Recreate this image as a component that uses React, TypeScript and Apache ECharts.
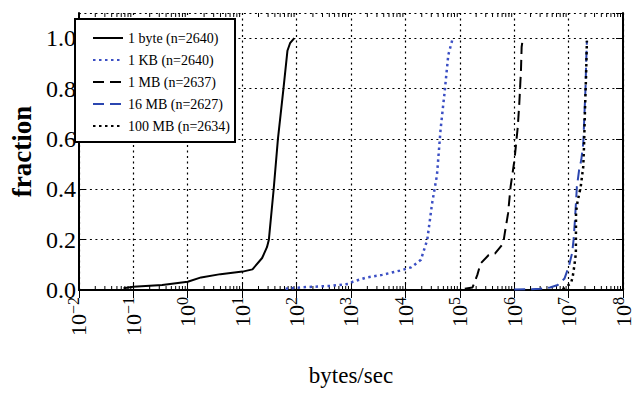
import React, { useEffect, useRef } from "react";
import * as echarts from "echarts";

const seriesNames = ["1 byte (n=2640)", "1 KB (n=2640)", "1 MB (n=2637)", "16 MB (n=2627)", "100 MB (n=2634)"];

const byteX = [0.066, 0.1, 0.34, 1.0, 1.76, 4.0, 10.2, 15.5, 23.3, 28.6, 31, 38, 45.5, 57.5, 68, 76, 91];
const byteY = [0.007, 0.013, 0.02, 0.033, 0.05, 0.063, 0.073, 0.082, 0.127, 0.17, 0.2, 0.4, 0.6, 0.8, 0.95, 0.98, 1.0];

const kbX = [63, 131, 414, 890, 1090, 1880, 3740, 7930, 12800, 19300, 25300, 31000, 38100, 44400, 52300, 61500, 73400];
const kbY = [0.005, 0.011, 0.016, 0.024, 0.033, 0.049, 0.06, 0.077, 0.09, 0.12, 0.2, 0.344, 0.456, 0.638, 0.78, 0.933, 0.996];

const mbX = [123600, 171500, 210400, 241000, 340000, 446000, 629000, 671000, 772000, 859000, 1.012e6, 1.086e6, 1.164e6, 1.242e6, 1.333e6, 1.371e6, 1.429e6];
const mbY = [0.005, 0.01, 0.06, 0.105, 0.139, 0.145, 0.185, 0.225, 0.304, 0.41, 0.516, 0.582, 0.648, 0.741, 0.873, 0.965, 0.992];

const mb16X = [1.0e6, 2.0e6, 3.03e6, 4.56e6, 6.33e6, 8.43e6, 1.007e7, 1.157e7, 1.236e7, 1.309e7, 1.42e7, 1.56e7, 1.71e7, 1.86e7, 1.97e7, 2.05e7, 2.1e7, 2.17e7];
const mb16Y = [0.002, 0.003, 0.005, 0.01, 0.02, 0.046, 0.093, 0.145, 0.2, 0.278, 0.41, 0.476, 0.516, 0.582, 0.714, 0.807, 0.9, 0.99];

const mb100X = [7.8e6, 1.11e7, 1.19e7, 1.27e7, 1.36e7, 1.37e7, 1.46e7, 1.67e7, 1.86e7, 1.92e7, 2.0e7, 2.05e7, 2.1e7, 2.17e7];
const mb100Y = [0.003, 0.027, 0.053, 0.093, 0.145, 0.31, 0.35, 0.41, 0.49, 0.569, 0.714, 0.787, 0.86, 0.99];

const decadeExponents = [-2, -1, 0, 1, 2, 3, 4, 5, 6, 7];
const minorMultipliers = [2, 3, 4, 5, 6, 7, 8, 9];

const FONT = "Liberation Serif";

const zip = (xs: number[], ys: number[]) => xs.map((x, i) => [x, ys[i]]);

export default function App() {
  const ref = useRef<HTMLDivElement>(null);
  useEffect(() => {
    if (!ref.current) return;
    const chart = echarts.init(ref.current, null, { renderer: "svg" });
    const minorVals: number[][] = [];
    decadeExponents.forEach((e) =>
      minorMultipliers.forEach((m) => minorVals.push([m * Math.pow(10, e), 0]))
    );
    const xAxisBase = {
      type: "log",
      logBase: 10,
      min: 0.01,
      max: 1e8,
      interval: 1,
      axisLine: { show: true, lineStyle: { color: "#000", width: 2 } },
      axisTick: { show: true, inside: true, length: 8, lineStyle: { color: "#000", width: 1 } },
      minorTick: { show: false },
    };
    const yAxisBase = {
      type: "value",
      min: 0,
      max: 1.1,
      interval: 0.2,
      axisLine: { show: true, lineStyle: { color: "#000", width: 2 } },
      axisTick: { show: true, inside: true, length: 7, lineStyle: { color: "#000", width: 1 } },
    };
    const lineSeries = (name: string, data: number[][], color: string, type: any, width = 2) => ({
      name,
      type: "line",
      data,
      showSymbol: false,
      symbol: "none",
      xAxisIndex: 0,
      yAxisIndex: 0,
      lineStyle: { color, width, type },
      itemStyle: { color },
    });
    chart.setOption({
      animation: false,
      backgroundColor: "#fff",
      grid: { left: 64, top: 13, right: 9, bottom: 104, containLabel: false },
      legend: {
        data: seriesNames,
        orient: "vertical",
        left: 75,
        top: 19,
        padding: [12, 5, 9, 17],
        itemWidth: 30,
        itemHeight: 14,
        itemGap: 8,
        backgroundColor: "#fff",
        borderColor: "#000",
        borderWidth: 2,
        borderRadius: 0,
        itemStyle: { opacity: 0 },
        textStyle: { fontFamily: FONT, fontSize: 14, color: "#000" },
      },
      xAxis: [
        {
          ...xAxisBase,
          position: "bottom",
          name: "bytes/sec",
          nameLocation: "middle",
          nameGap: 74,
          nameTextStyle: { fontFamily: FONT, fontSize: 23, color: "#000" },
          splitLine: { show: true, lineStyle: { color: "#000", width: 1.2, type: [2, 3.5] } },
          axisLabel: {
            rotate: 90,
            margin: 7,
            color: "#000",
            formatter: (v: number) => {
              const e = Math.round(Math.log10(v));
              const s = e < 0 ? "\u2212" + Math.abs(e) : String(e);
              return `{b|10}{s|${s}}`;
            },
            rich: {
              b: { fontFamily: FONT, fontSize: 22, color: "#000" },
              s: { fontFamily: FONT, fontSize: 16, color: "#000", verticalAlign: "top", padding: [0, 0, 10, 0] },
            },
          },
        },
        {
          ...xAxisBase,
          position: "top",
          axisLabel: { show: false },
          splitLine: { show: false },
        },
      ],
      yAxis: [
        {
          ...yAxisBase,
          position: "left",
          name: "fraction",
          nameLocation: "middle",
          nameRotate: 90,
          nameGap: 33,
          nameTextStyle: { fontFamily: FONT, fontSize: 27, fontWeight: "bold", color: "#000" },
          splitLine: { show: true, lineStyle: { color: "#000", width: 1.2, type: [2, 3.5] } },
          axisLabel: {
            margin: 3,
            color: "#000",
            fontFamily: FONT,
            fontSize: 24,
            showMaxLabel: false,
            formatter: (v: number) => (v > 1.05 ? "" : v.toFixed(1)),
          },
        },
        {
          ...yAxisBase,
          position: "right",
          axisLabel: { show: false },
          splitLine: { show: false },
        },
      ],
      series: [
        lineSeries(seriesNames[0], zip(byteX, byteY), "#000", "solid"),
        lineSeries(seriesNames[1], zip(kbX, kbY), "#3b4fc4", [2.5, 3.5], 2.5),
        lineSeries(seriesNames[2], zip(mbX, mbY), "#000", [11, 6]),
        lineSeries(seriesNames[3], zip(mb16X, mb16Y), "#2b46b0", [11, 6]),
        lineSeries(seriesNames[4], zip(mb100X, mb100Y), "#000", [2.5, 3.5], 2.5),
        {
          type: "custom",
          name: "minor",
          silent: true,
          xAxisIndex: 0,
          yAxisIndex: 0,
          clip: false,
          data: minorVals,
          renderItem: (params: any, api: any) => {
            const v = api.value(0);
            const b = api.coord([v, 0]);
            const t = api.coord([v, 1.1]);
            const style = { stroke: "#000", lineWidth: 1 };
            return {
              type: "group",
              children: [
                { type: "line", shape: { x1: b[0], y1: b[1], x2: b[0], y2: b[1] - 4 }, style },
                { type: "line", shape: { x1: t[0], y1: t[1], x2: t[0], y2: t[1] + 4 }, style },
              ],
            };
          },
        },
      ],
    } as any);
    return () => chart.dispose();
  }, []);
  return <div ref={ref} style={{ position: "absolute", left: 0, top: 0, width: 634, height: 394 }} />;
}
